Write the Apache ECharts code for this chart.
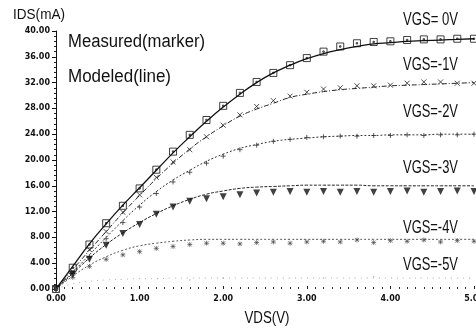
<!DOCTYPE html>
<html>
<head>
<meta charset="utf-8">
<style>
  html, body { margin: 0; padding: 0; background: #fff; }
  #chart { width: 476px; height: 331px; }
</style>
<script src="https://cdn.jsdelivr.net/npm/echarts@6/dist/echarts.min.js"></script>
</head>
<body>
<div id="chart"></div>
<script>
// VDS sweep (V)
const vds = [0, 0.2, 0.4, 0.6, 0.8, 1.0, 1.2, 1.4, 1.6, 1.8, 2.0, 2.2, 2.4, 2.6, 2.8, 3.0, 3.2, 3.4, 3.6, 3.8, 4.0, 4.2, 4.4, 4.6, 4.8, 5.0]

// modeled IDS (mA), one array per VGS
const model0 = [0, 3.5, 7.0, 10.1, 13.0, 15.7, 18.4, 21.1, 23.6, 26.0, 28.2, 30.2, 32.0, 33.5, 34.7, 35.7, 36.5, 37.1, 37.6, 38.0, 38.2, 38.4, 38.5, 38.6, 38.7, 38.8]
const model1 = [0, 3.0, 6.0, 8.9, 11.8, 14.5, 17.1, 19.5, 21.7, 23.6, 25.3, 26.8, 27.9, 28.8, 29.7, 30.2, 30.6, 30.9, 31.1, 31.3, 31.5, 31.6, 31.7, 31.8, 31.9, 32.0]
const model2 = [0, 2.6, 5.3, 8.0, 10.6, 13.0, 15.1, 16.9, 18.4, 19.8, 20.9, 21.8, 22.4, 22.9, 23.2, 23.4, 23.6, 23.7, 23.8, 23.8, 23.9, 23.9, 23.9, 24.0, 24.0, 24.0]
const model3 = [0, 2.4, 4.8, 6.9, 8.7, 10.3, 11.7, 12.9, 13.9, 14.7, 15.2, 15.6, 15.8, 15.9, 16.0, 16.1, 16.1, 16.1, 16.1, 16.0, 16.0, 16.0, 16.0, 16.0, 16.0, 16.0]
const model4 = [0, 2.0, 3.7, 5.0, 6.0, 6.7, 7.1, 7.4, 7.6, 7.7, 7.7, 7.7, 7.7, 7.7, 7.7, 7.7, 7.7, 7.7, 7.7, 7.7, 7.7, 7.7, 7.7, 7.7, 7.7, 7.7]
const model5 = [0, 0.8, 1.2, 1.4, 1.5, 1.6, 1.6, 1.7, 1.7, 1.7, 1.7, 1.7, 1.7, 1.7, 1.7, 1.7, 1.7, 1.7, 1.7, 1.7, 1.7, 1.7, 1.7, 1.7, 1.7, 1.7]

// measured IDS (mA)
const meas0 = [0, 3.3, 6.9, 10.2, 12.9, 15.6, 18.5, 21.3, 23.9, 26.2, 28.4, 30.4, 32.1, 33.5, 34.7, 35.8, 36.8, 37.6, 38.1, 38.3, 38.4, 38.6, 38.7, 38.7, 38.8, 38.8]
const meas1 = [0, 2.7, 6.1, 8.9, 11.9, 14.6, 17.3, 19.7, 21.6, 23.6, 25.4, 27.0, 28.3, 29.2, 29.9, 30.5, 31.0, 31.2, 31.5, 31.5, 31.6, 31.9, 32.1, 32.1, 31.9, 31.9]
const meas2 = [0, 2.4, 5.0, 7.8, 10.3, 12.7, 14.8, 16.6, 18.1, 19.5, 20.6, 21.6, 22.3, 22.9, 23.2, 23.5, 23.6, 23.7, 23.7, 23.8, 23.8, 23.9, 23.8, 23.9, 23.9, 24.0]
const meas3 = [0, 2.2, 4.6, 6.8, 8.6, 10.0, 11.6, 12.7, 13.6, 14.0, 14.3, 14.6, 14.9, 15.0, 15.1, 15.0, 15.1, 15.0, 15.1, 15.0, 15.1, 15.2, 15.0, 15.1, 15.2, 15.1]
const meas4 = [0, 1.8, 3.5, 4.6, 5.3, 5.8, 6.3, 6.6, 6.9, 7.1, 7.1, 7.0, 7.2, 7.3, 7.1, 7.3, 7.4, 7.3, 7.6, 7.2, 7.5, 7.4, 7.6, 7.3, 7.5, 7.4]
const meas5 = [null, null, null, null, null, null, null, null, 1.4, null, 1.7, null, null, null, null, null, 1.7, null, null, 1.9, null, null, null, null, null, null]

const vgsLabels = ['VGS= 0V', 'VGS=-1V', 'VGS=-2V', 'VGS=-3V', 'VGS=-4V', 'VGS=-5V']
const vgsLabelY = [20, 65, 112, 168, 228, 265]

const pairs = (ys) => vds.map((x, i) => [x, ys[i]])

const TXT = '#111'
const FONT = "'Liberation Sans', Arial, sans-serif"

// squeeze the scanned-looking labels to the width they take in the picture
const measureCtx = document.createElement('canvas').getContext('2d')
function fitScale(text, size, width) {
  measureCtx.font = size + 'px ' + FONT
  return width / measureCtx.measureText(text).width
}

function modelLine(ys, color, type, width) {
  return {
    type: 'line',
    data: pairs(ys),
    smooth: true,
    symbol: 'none',
    lineStyle: { color: color, type: type, width: width },
    z: 2,
  }
}

function measScatter(ys, symbol, size, itemStyle, rotate) {
  return {
    type: 'scatter',
    data: pairs(ys),
    symbol: symbol,
    symbolSize: size,
    symbolRotate: rotate || 0,
    itemStyle: itemStyle,
    z: 3,
  }
}

const chart = echarts.init(document.getElementById('chart'))

const stroke = (c, w) => ({ color: 'transparent', borderColor: c, borderWidth: w })

const texts = [
  { x: 13, y: 15, text: 'IDS(mA)', size: 15, w: 52 },
  { x: 68, y: 42, text: 'Measured(marker)', size: 18, w: 137 },
  { x: 68, y: 77, text: 'Modeled(line)', size: 18, w: 103 },
  { x: 267, y: 319, text: 'VDS(V)', size: 16, w: 45, align: 'center' },
].concat(vgsLabels.map((t, i) => ({ x: 403, y: vgsLabelY[i], text: t, size: 18, w: 55 })))

chart.setOption({
  animation: false,
  backgroundColor: '#fff',
  grid: { left: 56, right: 2, top: 31, bottom: 42, outerBoundsMode: 'none' },
  xAxis: {
    type: 'value',
    min: 0,
    max: 5,
    interval: 1,
    axisLine: { show: false },
    axisTick: { show: true, inside: true, length: 3, lineStyle: { color: '#222' } },
    minorTick: { show: true, splitNumber: 10, length: 2, lineStyle: { color: '#333' } },
    splitLine: { show: false },
    axisLabel: {
      color: TXT,
      fontSize: 8,
      fontWeight: 'bold',
      fontFamily: 'DejaVu Sans, sans-serif',
      margin: 6,
      alignMaxLabel: 'center',
      hideOverlap: false,
      formatter: (v) => v.toFixed(2),
    },
  },
  yAxis: {
    type: 'value',
    min: 0,
    max: 40,
    interval: 4,
    axisLine: { show: true, lineStyle: { color: '#111', width: 1 } },
    axisTick: { show: true, length: 4, lineStyle: { color: '#111' } },
    minorTick: { show: true, splitNumber: 5, length: 2, lineStyle: { color: '#222' } },
    splitLine: { show: false },
    axisLabel: {
      color: TXT,
      fontSize: 8,
      fontWeight: 'bold',
      fontFamily: 'DejaVu Sans, sans-serif',
      margin: 6,
      formatter: (v) => v.toFixed(2),
    },
  },
  graphic: texts.map((t) => ({
    type: 'text',
    x: t.x,
    y: t.y,
    scaleX: fitScale(t.text, t.size, t.w),
    style: {
      text: t.text,
      fill: TXT,
      fontSize: t.size,
      fontFamily: FONT,
      textAlign: t.align || 'left',
      textVerticalAlign: 'middle',
    },
  })),
  series: [
    modelLine(model0, '#111', 'solid', 1.3),
    modelLine(model1, '#222', [5, 2, 1, 2], 1),
    modelLine(model2, '#333', [2, 2], 1),
    modelLine(model3, '#222', [3, 1.5], 1),
    modelLine(model4, '#555', [2, 2], 1),
    modelLine(model5, '#aaa', [1, 5], 1),
    measScatter(meas0, 'path://M0,0H10V10H0Z M4,4H6V6H4Z', 7, stroke('#111', 1)),
    measScatter(meas1, 'path://M0,0L10,10M10,0L0,10', 5, stroke('#222', 1)),
    measScatter(meas2, 'path://M0,5L10,5M5,0L5,10', 5, stroke('#333', 1)),
    measScatter(meas3, 'triangle', 7, { color: '#111' }, 180),
    measScatter(meas4, 'path://M5,0L5,10M0,5L10,5M1,1L9,9M9,1L1,9', 5, stroke('#444', 0.8)),
    measScatter(meas5, 'circle', 1.5, { color: '#999' }),
  ],
})
</script>
</body>
</html>
